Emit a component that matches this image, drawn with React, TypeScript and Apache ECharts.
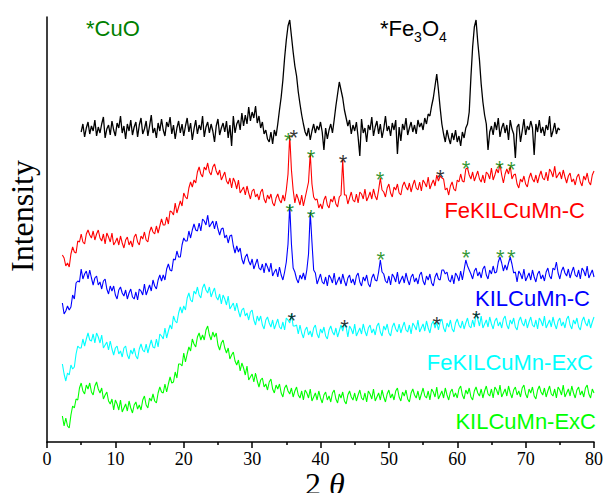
import React, { useEffect, useRef } from "react";
import * as echarts from "echarts";

// 2θ sampling grid
const twoThetaStep = 0.25;
const fe3o4Start = 5;
const sampleStart = 2.25;

// Intensities (arbitrary units, stacked offsets as in the figure)
const fe3o4 = [
  310, 318, 305, 314, 320, 308, 316, 311, 322, 306, 315, 309, 318, 325, 304, 313,
  317, 307, 321, 312, 306, 319, 314, 326, 309, 316, 303, 318, 311, 322, 307, 315,
  320, 305, 317, 324, 308, 313, 321, 306, 316, 327, 309, 314, 304, 319, 311, 323,
  312, 306, 320, 315, 325, 308, 317, 303, 314, 321, 309, 318, 306, 316, 324, 310,
  319, 302, 313, 322, 308, 317, 312, 326, 305, 315, 320, 309, 318, 311, 300, 316,
  323, 307, 314, 319, 310, 321, 304, 317, 296, 326, 309, 318, 322, 312, 329, 316,
  327, 318, 335, 321, 330, 324, 336, 319, 326, 314, 320, 308, 312, 303, 300, 310,
  298, 312, 306, 318, 332, 345, 362, 384, 402, 416, 422, 406, 390, 376, 366, 350,
  338, 327, 318, 310, 306, 314, 302, 311, 318, 309, 316, 312, 320, 310, 292, 314,
  303, 312, 318, 309, 322, 336, 348, 360, 352, 344, 332, 324, 316, 322, 308, 317,
  311, 320, 305, 286, 323, 309, 314, 300, 317, 312, 325, 306, 315, 321, 308, 318,
  304, 313, 326, 311, 316, 306, 319, 312, 322, 288, 315, 301, 318, 312, 324, 307,
  314, 320, 310, 317, 308, 322, 315, 319, 312, 324, 318, 328, 326, 336, 344, 356,
  368, 352, 334, 318, 308, 300, 312, 304, 298, 309, 302, 312, 300, 306, 296, 310,
  304, 314, 318, 330, 365, 395, 415, 422, 400, 382, 358, 340, 327, 318, 292, 310,
  316, 307, 320, 312, 324, 305, 314, 319, 309, 317, 302, 322, 313, 308, 284, 315,
  318, 300, 311, 323, 307, 316, 312, 321, 314, 287, 318, 310, 322, 309, 315, 306,
  317, 312, 326, 305, 311, 319, 308, 314, 312,
];

const feKILCuMnC = [
  187, 184, 176, 179, 175, 188, 195, 190, 189, 201, 200, 208, 200, 198, 208, 212,
  207, 204, 211, 202, 208, 212, 204, 201, 208, 198, 209, 205, 200, 209, 197, 200,
  204, 197, 206, 199, 194, 202, 205, 197, 201, 195, 205, 208, 200, 197, 206, 203,
  210, 202, 200, 210, 215, 210, 208, 216, 209, 216, 223, 217, 217, 225, 218, 231,
  230, 227, 239, 229, 235, 241, 236, 249, 245, 243, 254, 260, 255, 262, 259, 270,
  275, 268, 265, 275, 272, 279, 270, 267, 275, 278, 271, 267, 272, 262, 266, 270,
  261, 258, 264, 254, 264, 260, 253, 262, 249, 252, 255, 247, 256, 249, 243, 251,
  253, 245, 248, 242, 250, 253, 243, 239, 247, 243, 248, 239, 236, 244, 248, 242,
  239, 247, 241, 252, 268, 307, 272, 252, 239, 248, 243, 237, 247, 236, 244, 252,
  260, 289, 258, 245, 242, 243, 234, 238, 233, 242, 246, 237, 234, 243, 240, 246,
  238, 235, 245, 247, 282, 247, 247, 238, 244, 250, 242, 240, 248, 239, 250, 248,
  243, 253, 241, 245, 250, 243, 253, 246, 242, 252, 264, 252, 250, 245, 254, 258,
  249, 245, 255, 252, 258, 249, 247, 256, 260, 255, 252, 259, 250, 257, 262, 254,
  252, 260, 251, 262, 259, 255, 265, 253, 258, 262, 256, 267, 261, 266, 264, 263,
  252, 254, 247, 256, 260, 253, 251, 262, 260, 268, 261, 260, 273, 274, 267, 263,
  270, 261, 266, 271, 263, 260, 267, 259, 270, 268, 263, 274, 262, 267, 273, 269,
  278, 267, 259, 268, 273, 268, 276, 263, 267, 268, 258, 254, 263, 260, 266, 258,
  255, 264, 269, 263, 260, 267, 259, 266, 271, 264, 262, 270, 261, 273, 270, 265,
  276, 264, 267, 270, 263, 272, 265, 259, 266, 269, 260, 263, 257, 265, 268, 260,
  256, 266, 262, 269, 260, 257, 267, 271,
];

const kILCuMnC = [
  139, 128, 131, 136, 132, 135, 147, 143, 159, 161, 160, 173, 163, 168, 171, 163,
  172, 164, 157, 164, 166, 157, 160, 153, 161, 163, 153, 148, 156, 151, 156, 147,
  143, 152, 155, 149, 146, 152, 143, 149, 153, 145, 143, 150, 142, 153, 151, 147,
  158, 147, 152, 157, 151, 162, 156, 153, 162, 167, 161, 167, 162, 173, 178, 172,
  171, 183, 182, 191, 185, 185, 197, 204, 201, 201, 211, 204, 212, 218, 212, 211,
  219, 211, 223, 221, 217, 227, 215, 218, 221, 213, 221, 213, 207, 213, 214, 204,
  207, 199, 206, 207, 196, 189, 196, 190, 194, 183, 178, 185, 188, 181, 177, 183,
  173, 178, 183, 174, 172, 178, 169, 179, 175, 170, 179, 166, 170, 173, 165, 175,
  167, 162, 170, 180, 198, 237, 198, 174, 170, 163, 159, 167, 163, 169, 162, 172,
  188, 230, 200, 172, 169, 158, 163, 168, 160, 158, 165, 156, 167, 164, 159, 169,
  157, 161, 165, 158, 168, 161, 156, 164, 167, 159, 163, 157, 166, 169, 160, 156,
  165, 161, 167, 158, 155, 164, 168, 162, 161, 170, 182, 170, 168, 161, 159, 166,
  157, 168, 165, 160, 170, 158, 162, 166, 159, 169, 162, 157, 165, 168, 160, 164,
  158, 167, 170, 161, 157, 166, 162, 168, 159, 156, 165, 169, 163, 162, 172, 172,
  168, 170, 162, 160, 167, 158, 169, 166, 161, 171, 162, 172, 182, 176, 172, 168,
  163, 171, 174, 166, 170, 164, 173, 176, 167, 163, 172, 168, 176, 169, 170, 180,
  185, 179, 171, 177, 172, 179, 185, 178, 169, 170, 160, 171, 168, 163, 173, 161,
  165, 169, 162, 172, 165, 160, 168, 171, 163, 167, 161, 170, 174, 166, 163, 174,
  172, 180, 169, 163, 171, 175, 169, 166, 173, 164, 170, 175, 167, 165, 172, 163,
  174, 171, 166, 176, 164, 168, 172, 165,
];

const feKILCuMnExC = [
  78, 68, 61, 69, 67, 77, 73, 75, 88, 96, 94, 94, 103, 96, 103, 109,
  102, 101, 108, 99, 109, 105, 99, 107, 94, 97, 100, 92, 101, 93, 87, 94,
  96, 88, 91, 85, 94, 96, 87, 83, 92, 88, 94, 86, 83, 93, 98, 92,
  90, 98, 89, 96, 102, 95, 94, 103, 95, 108, 106, 103, 114, 104, 111, 117,
  113, 126, 121, 119, 129, 135, 129, 136, 132, 144, 149, 142, 140, 151, 148, 155,
  147, 144, 154, 158, 152, 149, 155, 145, 150, 154, 145, 142, 148, 138, 147, 143,
  137, 146, 133, 136, 139, 131, 139, 131, 125, 132, 134, 126, 129, 122, 130, 132,
  122, 117, 126, 121, 126, 117, 113, 122, 125, 119, 115, 122, 113, 118, 123, 115,
  113, 120, 112, 124, 122, 119, 128, 116, 116, 117, 108, 117, 109, 104, 112, 115,
  107, 111, 105, 114, 117, 108, 104, 113, 109, 115, 106, 103, 112, 116, 110, 107,
  114, 105, 111, 117, 111, 118, 115, 105, 116, 113, 108, 118, 106, 110, 114, 108,
  118, 111, 106, 114, 117, 109, 113, 107, 116, 119, 110, 106, 116, 112, 118, 109,
  106, 115, 119, 113, 110, 118, 109, 115, 120, 112, 110, 117, 108, 119, 116, 112,
  122, 110, 114, 118, 111, 121, 114, 109, 118, 121, 114, 120, 112, 120, 123, 114,
  110, 119, 115, 122, 113, 110, 119, 123, 117, 114, 121, 113, 119, 124, 116, 114,
  122, 115, 129, 123, 116, 126, 114, 118, 122, 115, 125, 118, 113, 121, 124, 116,
  120, 114, 123, 126, 117, 113, 122, 118, 124, 115, 112, 121, 125, 119, 116, 123,
  114, 120, 125, 117, 115, 122, 113, 124, 121, 116, 126, 114, 118, 122, 115, 125,
  118, 113, 121, 124, 116, 120, 114, 123, 126, 117, 113, 122, 118, 124, 115, 112,
  121, 125, 119, 116, 123, 114, 120, 125,
];

const kILCuMnExC = [
  26, 16, 24, 16, 14, 27, 36, 34, 43, 42, 54, 59, 51, 48, 57, 53,
  59, 50, 47, 56, 60, 53, 49, 54, 43, 47, 50, 41, 38, 43, 32, 42,
  38, 32, 42, 30, 34, 38, 31, 41, 34, 29, 37, 40, 33, 37, 32, 42,
  46, 37, 34, 44, 41, 48, 41, 39, 49, 55, 50, 49, 58, 50, 58, 65,
  59, 60, 70, 64, 78, 78, 76, 89, 80, 88, 95, 91, 103, 98, 95, 105,
  109, 102, 107, 102, 112, 116, 107, 102, 110, 105, 109, 97, 92, 99, 102, 94,
  89, 94, 83, 87, 90, 81, 77, 82, 71, 79, 74, 67, 76, 62, 65, 68,
  60, 69, 61, 55, 62, 64, 55, 58, 52, 60, 63, 53, 49, 57, 53, 58,
  49, 45, 54, 57, 51, 48, 54, 45, 51, 55, 47, 44, 51, 42, 52, 49,
  44, 53, 41, 45, 49, 42, 51, 44, 39, 47, 50, 42, 46, 40, 49, 52,
  43, 39, 48, 44, 50, 41, 38, 47, 51, 45, 42, 49, 41, 47, 52, 44,
  42, 49, 40, 51, 48, 43, 53, 41, 45, 49, 42, 52, 45, 40, 48, 52,
  44, 48, 42, 51, 54, 45, 41, 50, 46, 52, 43, 40, 49, 53, 47, 44,
  51, 42, 48, 54, 46, 44, 51, 42, 53, 50, 45, 55, 43, 47, 51, 44,
  54, 47, 42, 50, 53, 45, 49, 44, 53, 56, 47, 43, 52, 48, 54, 45,
  42, 51, 55, 49, 46, 53, 44, 51, 56, 48, 46, 53, 44, 55, 52, 47,
  57, 45, 49, 53, 46, 56, 49, 44, 52, 55, 47, 51, 45, 54, 57, 48,
  44, 53, 49, 55, 46, 43, 52, 56, 50, 47, 54, 45, 51, 56, 48, 46,
  53, 44, 55, 52, 47, 57, 45, 49, 53, 46, 56, 49, 44, 52, 55, 47,
  51, 45, 54, 57, 48, 44, 53, 49,
];

// Peak markers [2θ, intensity]
const cuoMarksOnFeC = [[35.3, 307], [38.6, 290], [48.7, 268], [61.3, 279], [66.2, 279], [67.9, 278]];
const fe3o4MarksOnFeC = [[36.1, 310], [43.3, 285], [57.5, 270]];
const cuoMarksOnC = [[35.5, 236], [38.6, 230], [48.8, 188], [61.3, 190], [66.3, 190], [67.9, 190]];
const fe3o4MarksOnFeExC = [[35.8, 127], [43.5, 120], [57.0, 123], [62.8, 129]];

const SANS = 'Arial, "Liberation Sans", Helvetica, sans-serif';
const SERIF = '"Times New Roman", "Liberation Serif", serif';
const MARK_GREEN = "#008000";

function toPairs(start: number, values: number[]) {
  return values.map((v, i) => [start + i * twoThetaStep, v]);
}

function lineSeries(name: string, start: number, values: number[], color: string, width: number) {
  return {
    name,
    type: "line",
    data: toPairs(start, values),
    showSymbol: false,
    symbol: "none",
    silent: true,
    lineStyle: { color, width },
  };
}

function markSeries(data: number[][], color: string) {
  return {
    type: "scatter",
    data,
    symbol: "circle",
    symbolSize: 1,
    itemStyle: { color: "rgba(0,0,0,0)" },
    silent: true,
    z: 5,
    label: {
      show: true,
      formatter: "*",
      position: "inside",
      offset: [0, 5],
      color,
      fontSize: 22,
      fontFamily: SANS,
    },
  };
}

function text(x: number, y: number, str: string, color: string, align: string, size = 22) {
  return {
    type: "text",
    x,
    y,
    style: {
      text: str,
      fill: color,
      font: `${size}px ${SANS}`,
      textAlign: align,
      textVerticalAlign: "middle",
    },
  };
}

export default function App() {
  const ref = useRef<HTMLDivElement>(null);
  useEffect(() => {
    if (!ref.current) return;
    const chart = echarts.init(ref.current, null, { renderer: "svg" });
    chart.setOption({
      animation: false,
      backgroundColor: "#ffffff",
      grid: { left: 47, right: 10, top: 17, bottom: 51, containLabel: false },
      xAxis: {
        type: "value",
        min: 0,
        max: 80,
        interval: 10,
        axisLine: { show: true, onZero: false, lineStyle: { color: "#000", width: 1.5 } },
        axisTick: { show: true, length: 6, lineStyle: { color: "#000", width: 1.5 } },
        minorTick: { show: true, splitNumber: 2, length: 3, lineStyle: { color: "#000", width: 1.5 } },
        splitLine: { show: false },
        axisLabel: { color: "#000", fontSize: 18, fontFamily: SERIF, margin: 8 },
      },
      yAxis: {
        type: "value",
        min: 0,
        max: 425,
        axisLine: { show: true, onZero: false, lineStyle: { color: "#000", width: 1.5 } },
        axisTick: { show: false },
        axisLabel: { show: false },
        splitLine: { show: false },
      },
      series: [
        lineSeries("KILCuMn-ExC", sampleStart, kILCuMnExC, "#00ff00", 1.1),
        lineSeries("FeKILCuMn-ExC", sampleStart, feKILCuMnExC, "#00ffff", 1.1),
        lineSeries("KILCuMn-C", sampleStart, kILCuMnC, "#0000ff", 1.1),
        lineSeries("FeKILCuMn-C", sampleStart, feKILCuMnC, "#ff0000", 1.1),
        lineSeries("Fe3O4", fe3o4Start, fe3o4, "#000000", 1.3),
        markSeries(cuoMarksOnFeC, MARK_GREEN),
        markSeries(fe3o4MarksOnFeC, "#000000"),
        markSeries(cuoMarksOnC, MARK_GREEN),
        markSeries(fe3o4MarksOnFeExC, "#000000"),
      ],
      graphic: [
        text(86, 28, "*CuO", MARK_GREEN, "left"),
        text(380, 28, "*Fe", "#000", "left"),
        text(414, 37, "3", "#000", "left", 14),
        text(422, 28, "O", "#000", "left"),
        text(439, 37, "4", "#000", "left", 14),
        text(585, 210, "FeKILCuMn-C", "#ff0000", "right"),
        text(590, 298, "KILCuMn-C", "#0000ff", "right"),
        text(593, 362, "FeKILCuMn-ExC", "#00ffff", "right"),
        text(596, 421, "KILCuMn-ExC", "#00ff00", "right"),
        {
          type: "text",
          x: 22,
          y: 216,
          rotation: Math.PI / 2,
          style: {
            text: "Intensity",
            fill: "#000",
            font: `32px ${SERIF}`,
            textAlign: "center",
            textVerticalAlign: "middle",
          },
        },
        {
          type: "text",
          x: 305,
          y: 484,
          style: {
            text: "2 {t|θ}",
            fill: "#000",
            font: `32px ${SERIF}`,
            textAlign: "left",
            textVerticalAlign: "middle",
            rich: { t: { fontStyle: "italic", fontSize: 32, fontFamily: SERIF, fill: "#000" } },
          },
        },
      ],
    });
    return () => chart.dispose();
  }, []);
  return (
    <div
      ref={ref}
      style={{ position: "absolute", left: 0, top: 0, width: 606, height: 493, background: "#fff" }}
    />
  );
}
